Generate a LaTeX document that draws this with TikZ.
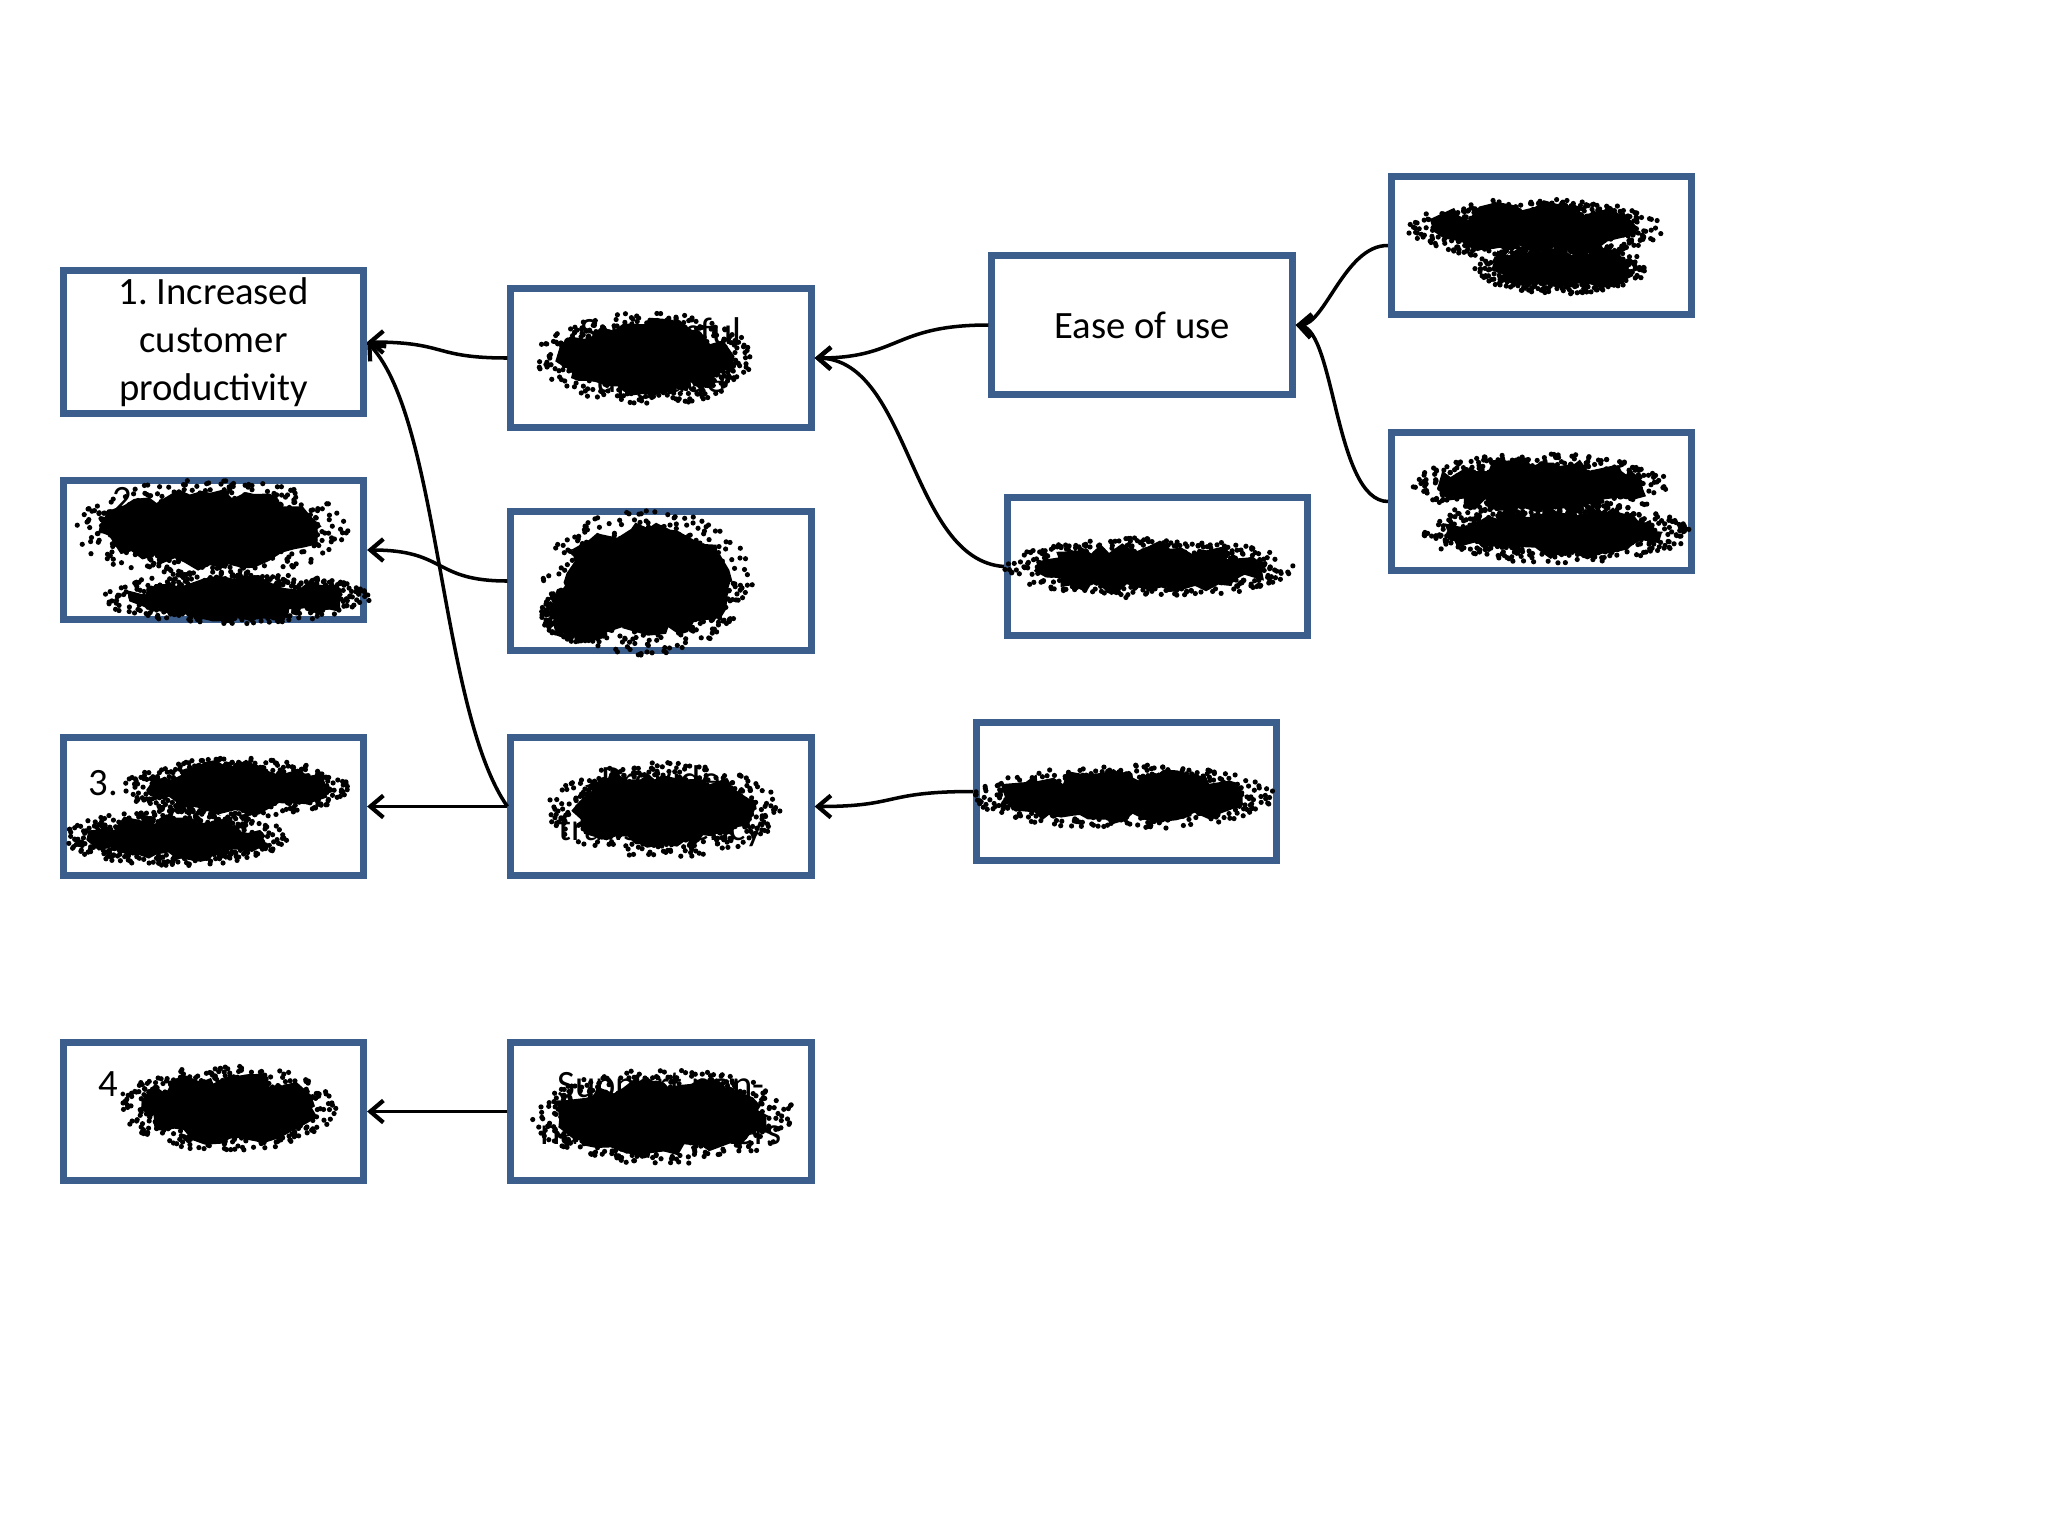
\documentclass[tikz,border=0pt]{standalone}
\usepackage{fontspec}
\setmainfont{Carlito}
\frenchspacing
\usetikzlibrary{arrows.meta,decorations.pathmorphing}
\definecolor{boxblue}{RGB}{60,94,140}
\newcommand\myblob[4]{%
  \fill[black,decorate,decoration={random steps,segment length=3pt,amplitude=2pt}]
    (#1,#2) ellipse ({0.84*#3} and {0.78*#4});
  \foreach \k in {1,...,380}{%
    \pgfmathsetmacro\ang{360*rnd}%
    \pgfmathsetmacro\rr{0.6+0.48*rnd}%
    \fill[black] ({#1+#3*\rr*cos(\ang)},{#2+#4*\rr*sin(\ang)}) circle (2.6);
  }%
}
\begin{document}
\begin{tikzpicture}[x=0.01cm,y=-0.01cm,
  box/.style={draw=boxblue,line width=2pt,fill=white,minimum width=3.0cm,
    minimum height=1.38cm,align=center,inner sep=2pt,
    font=\fontsize{11}{13.6}\selectfont},
  num/.style={inner sep=0pt,font=\fontsize{11}{13.6}\selectfont},
  conn/.style={line width=1pt,-{Straight Barb[length=1.3mm,width=2.2mm,line width=1.2pt]}}]
\useasboundingbox[fill=white] (0,0) rectangle (2048,1536);
\pgfmathsetseed{11}
% left column
\node[box] (a1) at (213.5,342) {1. Increased\\customer\\productivity};
\node[box] (a2) at (213.5,550) {};
\node[box] (a3) at (213.5,806.5) {};
\node[box] (a4) at (213.5,1111.5) {};
% second column
\node[box] (b1) at (661,358) {Successful\\upgrade};
\node[box] (b2) at (661,581) {};
\node[box] (b3) at (661,806.5) {Provide\\transparency};
\node[box] (b4) at (661,1111.5) {Support non-\\native speakers};
% third column
\node[box] (c1) at (1142,325) {Ease of use};
\node[box] (c2) at (1157.5,566.5) {};
\node[box] (c3) at (1126.5,791.5) {};
% fourth column
\node[box] (d1) at (1541.5,245.5) {};
\node[box] (d2) at (1541.5,501.5) {};
% visible numbers
\node[num,anchor=west] (n2) at (112,500) {2.};
\node[num,anchor=west] (n3) at (88,783) {3.};
\node[num,anchor=west] (n4) at (98,1084) {4.};
% connectors
\draw[conn] (b1.west) .. controls +(-75,0) and +(80,0) .. (a1.east);
\draw[conn] (b3.west) .. controls (440,710) and (440,420) .. (a1.east);
\draw[conn] (b2.west) .. controls +(-75,0) and +(80,0) .. (a2.east);
\draw[conn] (b3.west) -- (a3.east);
\draw[conn] (b4.west) -- (a4.east);
\draw[conn] (c1.west) .. controls +(-95,0) and +(85,0) .. (b1.east);
\draw[conn] (c2.west) .. controls (910,560) and (910,360) .. (b1.east);
\draw[conn] (c3.west) .. controls +(-90,0) and +(85,0) .. (b3.east);
\draw[conn] (d1.west) .. controls (1345,245) and (1325,325) .. (c1.east);
\draw[conn] (d2.west) .. controls (1335,501) and (1335,330) .. (c1.east);
% scribbles
\myblob{210}{529}{128}{46}
\myblob{236}{598}{124}{24}
\myblob{236}{788}{104}{28}
\myblob{176}{838}{104}{26}
\myblob{228}{1108}{100}{40}
\myblob{645}{359}{102}{44}
\myblob{648}{582}{98}{68}
\myblob{580}{614}{36}{26}
\myblob{664}{810}{108}{44}
\myblob{664}{1117}{122}{44}
\myblob{1149}{568}{134}{28}
\myblob{1125}{797}{140}{30}
\myblob{1535}{229}{118}{28}
\myblob{1561}{268}{80}{24}
\myblob{1541}{486}{120}{30}
\myblob{1556}{533}{126}{28}
\end{tikzpicture}
\end{document}
